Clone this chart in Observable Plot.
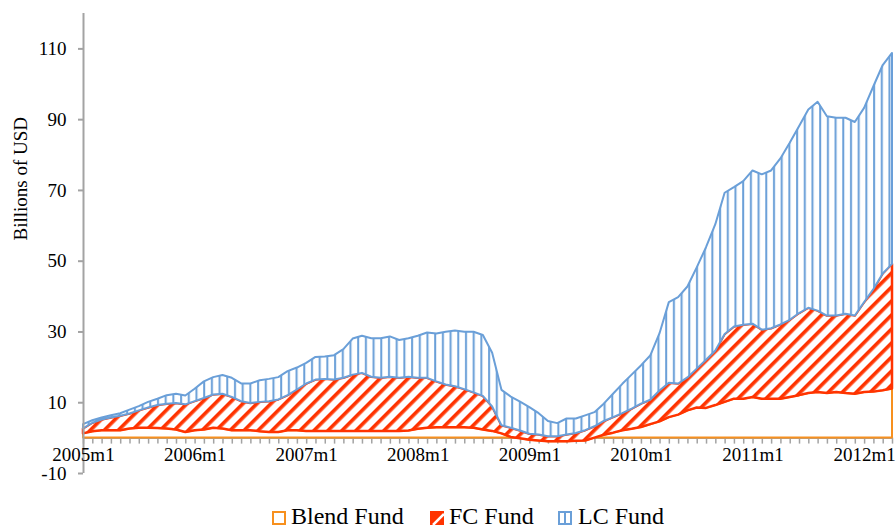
<!DOCTYPE html>
<html><head><meta charset="utf-8">
<script src="https://cdn.jsdelivr.net/npm/d3@7"></script>
<script src="https://cdn.jsdelivr.net/npm/@observablehq/plot@0.6"></script>
<style>
body{margin:0;background:#fff;font-family:"Liberation Serif",serif;color:#000;}
#legend{position:relative;width:896px;height:25px;font-size:24px;line-height:25px;}
#legend .item{position:absolute;top:0;white-space:nowrap;}
#legend svg{position:absolute;top:7px;left:0;}
#legend .lab{position:absolute;top:0;}
</style></head><body>
<div id="chart"></div>
<div id="legend"></div>
<script>
// categories: monthly, 2005m1 .. 2012m4
const startYear = 2005, nMonths = 88;
const months = Array.from({length: nMonths}, (_, i) => `${startYear + Math.floor(i / 12)}m${(i % 12) + 1}`);
const xTickLabels = ["2005m1","2006m1","2007m1","2008m1","2009m1","2010m1","2011m1","2012m1"];
const yTicks = [-10, 10, 30, 50, 70, 90, 110];
const seriesNames = ["Blend Fund", "FC Fund", "LC Fund"];

// series values (billions of USD), stacked in this order
const blend = [1.2,1.8,2.1,2.1,2.1,2.6,2.8,2.8,2.7,2.6,2.3,1.6,2.1,2.3,2.8,2.6,2.1,2.1,2.1,1.8,1.6,1.6,2.1,2.1,1.9,
  1.9,1.9,1.9,1.9,1.9,1.9,1.9,1.9,1.9,1.9,
  2.0,2.5,2.8,2.9,2.9,2.9,2.9,2.8,2.3,1.9,
  1.2,0.2,-0.2,-0.6,-0.8,-1.0,-1.0,-1.0,-0.9,-0.8,
  0.0,0.8,1.4,2.1,2.5,3.0,3.8,4.6,5.8,6.5,
  7.7,8.5,8.4,9.2,10.1,11.0,11.0,11.5,11.0,11.0,
  11.0,11.5,12.0,12.6,12.9,12.6,12.9,12.6,12.4,12.9,
  13.0,13.4,13.9];
const fc = [1.4,2.4,3.0,3.6,4.1,4.2,4.9,5.7,6.5,7.0,
  7.5,7.8,8.2,8.9,9.4,9.8,9.4,8.2,7.7,8.3,
  8.7,9.2,9.9,11.5,13.4,14.5,14.7,14.5,15.0,15.9,
  16.4,15.3,15.0,15.3,15.0,15.2,14.4,14.1,13.0,12.1,
  11.6,10.8,10.0,9.5,6.9,2.3,2.6,2.2,1.7,1.7,
  1.4,1.4,1.9,2.2,2.9,3.2,3.9,4.4,4.8,5.7,
  6.6,6.9,8.7,9.7,8.8,9.3,11.0,13.6,15.4,19.2,
  20.4,20.9,20.7,19.5,19.9,21.0,21.8,23.2,24.1,23.0,
  21.9,21.6,22.4,22.1,25.4,29.0,33.0,35.2];
const lc = [1.2,0.7,0.6,0.6,0.7,1.1,1.2,1.6,1.8,2.4,
  2.6,2.5,3.5,4.7,4.9,5.3,5.4,5.0,5.5,6.1,
  6.3,6.3,6.8,6.2,5.8,6.4,6.3,6.9,8.1,10.2,
  10.5,10.9,11.2,11.4,10.7,10.9,11.9,12.8,13.5,14.9,
  15.8,16.2,17.1,17.2,15.2,10.0,8.8,8.2,7.5,6.0,
  4.3,3.7,4.5,4.1,4.2,4.0,4.9,6.6,8.3,9.6,
  10.8,12.5,16.2,22.8,24.4,25.7,28.6,31.8,35.7,39.9,
  39.4,40.6,43.3,43.9,44.6,46.9,50.0,52.8,56.0,59.0,
  56.3,55.9,55.4,54.7,54.9,57.3,58.9,59.6];

const colors = {blend: "#f7901e", fc: "#ff3300", lc: "#6a9fd8", axis: "#a3a3a3"};

// stacked table (Excel-style cumulative stacking)
const rows = months.map((m, i) => {
  const b = blend[i], f = b + fc[i], l = f + lc[i];
  return {i, month: m, b0: 0, b1: b, f0: b, f1: f, l0: f, l1: l};
});

const chart = Plot.plot({
  width: 896, height: 504,
  marginLeft: 83, marginRight: 4, marginTop: 13, marginBottom: 31,
  style: {fontFamily: "Liberation Serif", fontSize: "19px", color: "#000", background: "#fff", overflow: "visible"},
  x: {type: "linear", domain: [0, nMonths - 1], axis: null},
  y: {domain: [-10, 120], axis: null},
  marks: [
    Plot.ruleY([0], {stroke: colors.axis, strokeWidth: 2}),
    Plot.ruleX(rows, {x: "i", y1: 0, y2: 0, insetBottom: -6, stroke: colors.axis, strokeWidth: 1.5}),
    Plot.areaY(rows, {x: "i", y1: "b0", y2: "b1", fill: "#fff", stroke: colors.blend, strokeWidth: 2}),
    Plot.areaY(rows, {x: "i", y1: "f0", y2: "f1", fill: "url(#fcPat)", stroke: colors.fc, strokeWidth: 2.5}),
    Plot.areaY(rows, {x: "i", y1: "l0", y2: "l1", fill: "url(#lcPat)", stroke: colors.lc, strokeWidth: 2}),
    Plot.ruleX([0], {stroke: colors.axis, strokeWidth: 2}),
    Plot.axisY({ticks: yTicks, tickSize: 5, tickPadding: 12, tickFormat: d => String(d), label: null, stroke: colors.axis, strokeWidth: 2, fill: "#000", fontSize: 19}),
    Plot.text(xTickLabels, {x: d => months.indexOf(d), y: 0, text: d => d, dy: 9, lineAnchor: "top", fontSize: 19, fill: "#000"}),
    Plot.text(["Billions of USD"], {frameAnchor: "left", rotate: -90, dx: -63, dy: -3, text: d => d, fontSize: 19, fill: "#000"})
  ]
});

// hatch patterns
const defs = d3.select(chart).insert("defs", ":first-child");
const p1 = defs.append("pattern").attr("id", "fcPat").attr("patternUnits", "userSpaceOnUse")
  .attr("width", 9.9).attr("height", 10).attr("patternTransform", "rotate(45)");
p1.append("rect").attr("width", 9.9).attr("height", 10).attr("fill", "#fff");
p1.append("rect").attr("width", 3.6).attr("height", 10).attr("fill", colors.fc);
const p2 = defs.append("pattern").attr("id", "lcPat").attr("patternUnits", "userSpaceOnUse")
  .attr("width", 7.7).attr("height", 10);
p2.append("rect").attr("width", 7.7).attr("height", 10).attr("fill", "#fff");
p2.append("rect").attr("x", 3).attr("width", 2).attr("height", 10).attr("fill", colors.lc);

document.getElementById("chart").appendChild(chart);

// legend
const legendPos = [272, 430, 558];
const swatches = [
  `<svg width="14" height="14"><rect x="1" y="1" width="12" height="12" fill="#fff" stroke="${colors.blend}" stroke-width="2"/></svg>`,
  `<svg width="14" height="14"><rect x="0" y="0" width="14" height="14" fill="${colors.fc}"/><line x1="3" y1="14" x2="14" y2="3" stroke="#fff" stroke-width="2.5"/></svg>`,
  `<svg width="14" height="14"><rect x="1" y="1" width="12" height="12" fill="#fff" stroke="${colors.lc}" stroke-width="2"/><line x1="7" y1="1" x2="7" y2="13" stroke="${colors.lc}" stroke-width="2"/></svg>`
];
const leg = document.getElementById("legend");
seriesNames.forEach((name, k) => {
  const it = document.createElement("div");
  it.className = "item";
  it.style.left = legendPos[k] + "px";
  it.innerHTML = swatches[k] + `<span class="lab" style="left:${k === 2 ? 20 : 19}px">${name}</span>`;
  leg.appendChild(it);
});
</script>
</body></html>
